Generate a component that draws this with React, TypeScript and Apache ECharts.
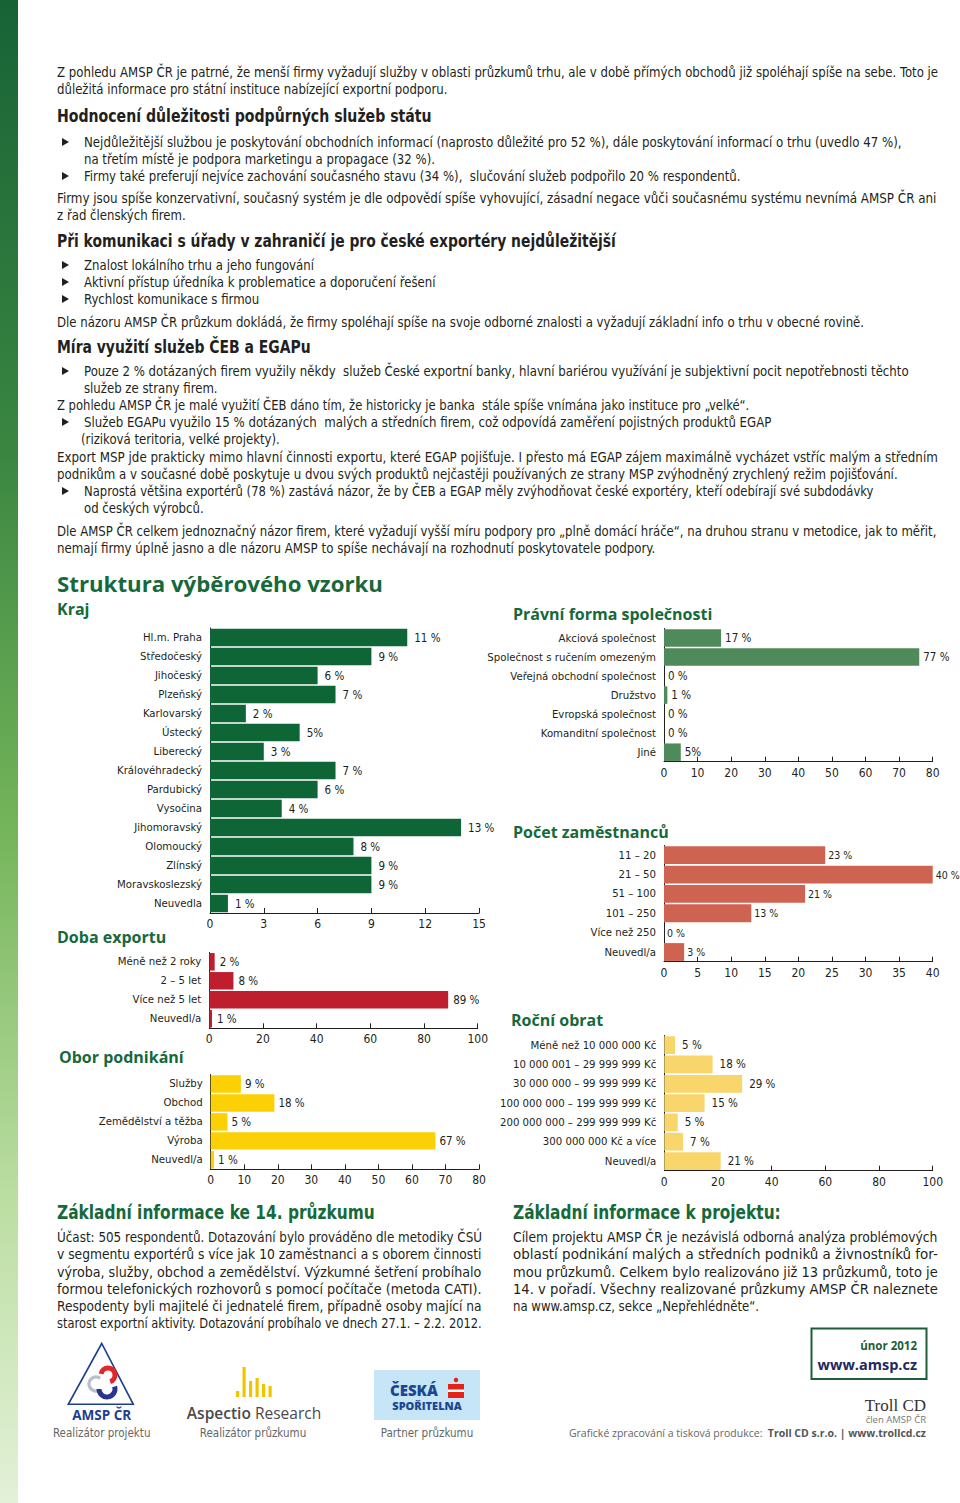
import React, { useEffect, useRef } from 'react';
import * as echarts from 'echarts';

const FN = "'DejaVu Sans Condensed', 'Liberation Sans Narrow', sans-serif";
const FW = "'Open Sans', Lato, sans-serif";
const TXT = '#231f20';
const GREEN = '#15693a';

// ---------- chart data ----------
const krajCategories = ['Hl.m. Praha', 'Středočeský', 'Jihočeský', 'Plzeňský', 'Karlovarský', 'Ústecký', 'Liberecký', 'Královéhradecký', 'Pardubický', 'Vysočina', 'Jihomoravský', 'Olomoucký', 'Zlínský', 'Moravskoslezský', 'Neuvedla'];
const krajValues = [11, 9, 6, 7, 2, 5, 3, 7, 6, 4, 14, 8, 9, 9, 1];
const krajLabels = ['11 %', '9 %', '6 %', '7 %', '2 %', '5%', '3 %', '7 %', '6 %', '4 %', '13 %', '8 %', '9 %', '9 %', '1 %'];

const dobaCategories = ['Méně než 2 roky', '2 – 5 let', 'Více než 5 let', 'Neuvedl/a'];
const dobaValues = [2, 9, 89, 1];
const dobaLabels = ['2 %', '8 %', '89 %', '1 %'];

const oborCategories = ['Služby', 'Obchod', 'Zemědělství a těžba', 'Výroba', 'Neuvedl/a'];
const oborValues = [9, 19, 5, 67, 1];
const oborLabels = ['9 %', '18 %', '5 %', '67 %', '1 %'];

const pravniCategories = ['Akciová společnost', 'Společnost s ručením omezeným', 'Veřejná obchodní společnost', 'Družstvo', 'Evropská společnost', 'Komanditní společnost', 'Jiné'];
const pravniValues = [17, 76, 0, 1, 0, 0, 5];
const pravniLabels = ['17 %', '77 %', '0 %', '1 %', '0 %', '0 %', '5%'];

const pocetCategories = ['11 – 20', '21 – 50', '51 – 100', '101 – 250', 'Více než 250', 'Neuvedl/a'];
const pocetValues = [24, 40, 21, 13, 0, 3];
const pocetLabels = ['23 %', '40 %', '21 %', '13 %', '0 %', '3 %'];

const obratCategories = ['Méně než 10 000 000 Kč', '10 000 001 – 29 999 999 Kč', '30 000 000 – 99 999 999 Kč', '100 000 000 – 199 999 999 Kč', '200 000 000 – 299 999 999 Kč', '300 000 000 Kč a více', 'Neuvedl/a'];
const obratValues = [4, 18, 29, 15, 5, 7, 21];
const obratLabels = ['5 %', '18 %', '29 %', '15 %', '5 %', '7 %', '21 %'];

// ---------- page text: [x, y, text, bullet, right edge to fit (0 = natural)] ----------
const bodyLines: [number, number, string, boolean, number][] = [
  [57, 72, 'Z pohledu AMSP ČR je patrné, že menší firmy vyžadují služby v oblasti průzkumů trhu, ale v době přímých obchodů již spoléhají spíše na sebe. Toto je', false, 938],
  [57, 89, 'důležitá informace pro státní instituce nabízející exportní podporu.', false, 0],
  [84, 142, 'Nejdůležitější službou je poskytování obchodních informací (naprosto důležité pro 52 %), dále poskytování informací o trhu (uvedlo 47 %),', true, 903],
  [84, 159, 'na třetím místě je podpora marketingu a propagace (32 %).', false, 0],
  [84, 176, 'Firmy také preferují nejvíce zachování současného stavu (34 %),  slučování služeb podpořilo 20 % respondentů.', true, 0],
  [57, 198, 'Firmy jsou spíše konzervativní, současný systém je dle odpovědí spíše vyhovující, zásadní negace vůči současnému systému nevnímá AMSP ČR ani', false, 938],
  [57, 215, 'z řad členských firem.', false, 0],
  [84, 265, 'Znalost lokálního trhu a jeho fungování', true, 0],
  [84, 282, 'Aktivní přístup úředníka k problematice a doporučení řešení', true, 0],
  [84, 299, 'Rychlost komunikace s firmou', true, 0],
  [57, 322, 'Dle názoru AMSP ČR průzkum dokládá, že firmy spoléhají spíše na svoje odborné znalosti a vyžadují základní info o trhu v obecné rovině.', false, 865],
  [84, 371, 'Pouze 2 % dotázaných firem využily někdy  služeb České exportní banky, hlavní bariérou využívání je subjektivní pocit nepotřebnosti těchto', true, 910],
  [84, 388, 'služeb ze strany firem.', false, 0],
  [57, 405, 'Z pohledu AMSP ČR je malé využití ČEB dáno tím, že historicky je banka  stále spíše vnímána jako instituce pro „velké“.', false, 750],
  [84, 422, 'Služeb EGAPu využilo 15 % dotázaných  malých a středních firem, což odpovídá zaměření pojistných produktů EGAP', true, 772],
  [81, 439, '(riziková teritoria, velké projekty).', false, 0],
  [57, 457, 'Export MSP jde prakticky mimo hlavní činnosti exportu, které EGAP pojišťuje. I přesto má EGAP zájem maximálně vycházet vstříc malým a středním', false, 938],
  [57, 474, 'podnikům a v současné době poskytuje u dvou svých produktů nejčastěji používaných ze strany MSP zvýhodněný zrychlený režim pojišťování.', false, 899],
  [84, 491, 'Naprostá většina exportérů (78 %) zastává názor, že by ČEB a EGAP měly zvýhodňovat české exportéry, kteří odebírají své subdodávky', true, 874],
  [84, 508, 'od českých výrobců.', false, 0],
  [57, 531, 'Dle AMSP ČR celkem jednoznačný názor firem, které vyžadují vyšší míru podpory pro „plně domácí hráče“, na druhou stranu v metodice, jak to měřit,', false, 938],
  [57, 548, 'nemají firmy úplně jasno a dle názoru AMSP to spíše nechávají na rozhodnutí poskytovatele podpory.', false, 656],
  [57, 1237, 'Účast: 505 respondentů. Dotazování bylo prováděno dle metodiky ČSÚ', false, 482],
  [57, 1254, 'v segmentu exportérů s více jak 10 zaměstnanci a s oborem činnosti', false, 482],
  [57, 1272, 'výroba, služby, obchod a zemědělství. Výzkumné šetření probíhalo', false, 482],
  [57, 1289, 'formou telefonických rozhovorů s pomocí počítače (metoda CATI).', false, 482],
  [57, 1306, 'Respodenty byli majitelé či jednatelé firem, případně osoby mající na', false, 482],
  [57, 1323, 'starost exportní aktivity. Dotazování probíhalo ve dnech 27.1. – 2.2. 2012.', false, 482],
  [513, 1237, 'Cílem projektu AMSP ČR je nezávislá odborná analýza problémových', false, 938],
  [513, 1254, 'oblastí podnikání malých a středních podniků a živnostníků for-', false, 938],
  [513, 1272, 'mou průzkumů. Celkem bylo realizováno již 13 průzkumů, toto je', false, 938],
  [513, 1289, '14. v pořadí. Všechny realizované průzkumy AMSP ČR naleznete', false, 938],
  [513, 1306, 'na www.amsp.cz, sekce „Nepřehlédněte“.', false, 0],
];

const darkHeadings: [number, number, string, number][] = [
  [57, 116, 'Hodnocení důležitosti podpůrných služeb státu', 432],
  [57, 241, 'Při komunikaci s úřady v zahraničí je pro české exportéry nejdůležitější', 616],
  [57, 347, 'Míra využití služeb ČEB a EGAPu', 311],
];

const greenHeadings: [number, number, string][] = [
  [57, 609, 'Kraj'],
  [57, 937, 'Doba exportu'],
  [59, 1057, 'Obor podnikání'],
  [513, 614, 'Právní forma společnosti'],
  [513, 832, 'Počet zaměstnanců'],
  [511, 1020, 'Roční obrat'],
];

const narrowGreenHeadings: [number, number, string, number][] = [
  [57, 1212, 'Základní informace ke 14. průzkumu', 375],
  [513, 1212, 'Základní informace k projektu:', 781],
];

let measureCtx: CanvasRenderingContext2D | null = null;
function measure(t: string, size: number, weight: string | number = 'normal', family = FN) {
  if (!measureCtx) measureCtx = document.createElement('canvas').getContext('2d');
  if (!measureCtx) return t.length * size * 0.5;
  measureCtx.font = `${weight} ${size}px ${family}`;
  return measureCtx.measureText(t).width;
}

const text = (x: number, y: number, t: string, s: any = {}, scaleX = 1) => ({
  type: 'text',
  x,
  y,
  scaleX,
  silent: true,
  style: {
    text: t,
    fill: TXT,
    fontFamily: FN,
    fontSize: 14.5,
    verticalAlign: 'middle',
    align: 'left',
    ...s,
  },
});

function buildGraphics() {
  const g: any[] = [];
  g.push({
    type: 'rect',
    silent: true,
    shape: { x: 0, y: 0, width: 18, height: 1503 },
    style: {
      fill: new echarts.graphic.LinearGradient(0, 0, 0, 1, [
        { offset: 0, color: '#186336' },
        { offset: 0.3, color: '#3a8641' },
        { offset: 0.55, color: '#74b45a' },
        { offset: 0.8, color: '#bcdea3' },
        { offset: 1, color: '#e3f1d8' },
      ]),
    },
  });
  bodyLines.forEach(([x, y, t, bullet, fit]) => {
    const sc = fit ? (fit - x) / measure(t, 14.5) : 0.9;
    g.push(text(x, y, t, {}, sc));
    if (bullet) {
      g.push({
        type: 'polygon',
        silent: true,
        shape: { points: [[62, y - 4], [69, y], [62, y + 4]] },
        style: { fill: TXT },
      });
    }
  });
  darkHeadings.forEach(([x, y, t, fit]) => {
    const sc = (fit - x) / measure(t, 18, 'bold');
    g.push(text(x, y, t, { fontSize: 18, fontWeight: 'bold' }, sc));
  });
  g.push(text(57, 583, 'Struktura výběrového vzorku', { fontFamily: FW, fontWeight: 'bold', fontSize: 22, fill: GREEN }, 326 / measure('Struktura výběrového vzorku', 22, 'bold', FW)));
  greenHeadings.forEach(([x, y, t]) => g.push(text(x, y, t, { fontFamily: FW, fontWeight: 'bold', fontSize: 16, fill: GREEN })));
  narrowGreenHeadings.forEach(([x, y, t, fit]) => {
    const sc = (fit - x) / measure(t, 20, 'bold');
    g.push(text(x, y, t, { fontSize: 20, fontWeight: 'bold', fill: GREEN }, sc));
  });

  // AMSP logo
  g.push({ type: 'polygon', silent: true, shape: { points: [[101.7, 1343.5], [68.3, 1404.3], [133.3, 1404.3]] }, style: { fill: 'none', stroke: '#1d3f8f', lineWidth: 1.6 } });
  g.push({ type: 'arc', silent: true, shape: { cx: 96, cy: 1384, r: 7, startAngle: Math.PI * 0.35, endAngle: Math.PI * 1.7, clockwise: true }, style: { fill: 'none', stroke: '#b9c2cc', lineWidth: 3.5 } });
  g.push({ type: 'arc', silent: true, shape: { cx: 108, cy: 1375, r: 7, startAngle: Math.PI * 1.05, endAngle: Math.PI * 2.4, clockwise: true }, style: { fill: 'none', stroke: '#e3262b', lineWidth: 5 } });
  g.push({ type: 'arc', silent: true, shape: { cx: 107, cy: 1389, r: 8, startAngle: -Math.PI * 0.1, endAngle: Math.PI * 1.0, clockwise: true }, style: { fill: 'none', stroke: '#27358f', lineWidth: 5 } });
  g.push(text(101.7, 1415, 'AMSP ČR', { fontFamily: "'Open Sans', sans-serif", fontWeight: 'bold', fontSize: 13.5, fill: '#1d3f8f', align: 'center' }));
  g.push(text(101.7, 1433, 'Realizátor projektu', { fontSize: 12.5, fill: '#666', align: 'center' }, 0.92));

  // Aspectio logo
  const aspBars = [[236, 1391], [242.5, 1367], [249, 1381], [255.5, 1378], [262, 1384], [268.5, 1386]];
  aspBars.forEach(([x, top]) => g.push({ type: 'rect', silent: true, shape: { x, y: top, width: 3.2, height: 1397 - top }, style: { fill: '#f2c400' } }));
  g.push(text(254, 1413, '{a|Aspectio} {b|Research}', {
    align: 'center',
    rich: {
      a: { fontFamily: "'Open Sans', sans-serif", fontWeight: 600, fontSize: 16, fill: '#4a4a4a' },
      b: { fontFamily: "'Open Sans', sans-serif", fontSize: 16, fill: '#4a4a4a' },
    },
  }, 0.97));
  g.push(text(253, 1433, 'Realizátor průzkumu', { fontSize: 12.5, fill: '#666', align: 'center' }, 0.92));

  // Česká spořitelna logo
  g.push({ type: 'rect', silent: true, shape: { x: 374, y: 1370, width: 106, height: 50 }, style: { fill: '#c6e5f6' } });
  g.push(text(390, 1390, 'ČESKÁ', { fontFamily: "'Open Sans', sans-serif", fontWeight: 800, fontSize: 15, fill: '#1c4694' }));
  g.push({ type: 'rect', silent: true, shape: { x: 448, y: 1384, width: 16, height: 14 }, style: { fill: '#e2231a' } });
  g.push({ type: 'rect', silent: true, shape: { x: 448, y: 1389.5, width: 16, height: 2.5 }, style: { fill: '#fff' } });
  g.push({ type: 'circle', silent: true, shape: { cx: 456, cy: 1380, r: 2.2 }, style: { fill: '#e2231a' } });
  g.push(text(427, 1405, 'SPOŘITELNA', { fontFamily: "'Open Sans', sans-serif", fontWeight: 800, fontSize: 11, fill: '#1c4694', align: 'center' }));
  g.push(text(427, 1433, 'Partner průzkumu', { fontSize: 12.5, fill: '#666', align: 'center' }, 0.92));

  // date box
  g.push({ type: 'rect', silent: true, shape: { x: 811.5, y: 1328.5, width: 115, height: 50.5 }, style: { fill: 'none', stroke: '#1d5e36', lineWidth: 2 } });
  g.push(text(917, 1345, 'únor 2012', { fontFamily: "'Open Sans', sans-serif", fontWeight: 'bold', fontSize: 11.5, fill: '#1d5e36', align: 'right' }));
  g.push(text(917, 1364, 'www.amsp.cz', { fontFamily: "'Open Sans', sans-serif", fontWeight: 'bold', fontSize: 14.5, fill: '#22285e', align: 'right' }));

  // Troll CD
  g.push(text(926, 1405, 'Troll CD', { fontFamily: "'Liberation Serif', 'DejaVu Serif', serif", fontSize: 17, fill: '#333', align: 'right' }));
  g.push(text(926, 1419, 'člen AMSP ČR', { fontFamily: "'Open Sans', sans-serif", fontSize: 9.5, fill: '#777', align: 'right' }));
  g.push(text(926, 1433, '{a|Grafické zpracování a tisková produkce:  }{b|Troll CD s.r.o. | www.trollcd.cz}', {
    align: 'right',
    rich: {
      a: { fontFamily: "'Open Sans', sans-serif", fontSize: 10.5, fill: '#666' },
      b: { fontFamily: "'Open Sans', sans-serif", fontSize: 10.5, fontWeight: 'bold', fill: '#555' },
    },
  }));
  return g;
}

type Block = {
  cats: string[];
  vals: number[];
  labels: string[];
  color: string;
  grid: { left: number; top: number; width: number; height: number };
  max: number;
  interval: number;
  dist: number;
  labelSize: number;
};

const blocks: Block[] = [
  { cats: krajCategories, vals: krajValues, labels: krajLabels, color: '#0e6636', grid: { left: 210, top: 628, width: 269, height: 285 }, max: 15, interval: 3, dist: 7, labelSize: 11.5 },
  { cats: dobaCategories, vals: dobaValues, labels: dobaLabels, color: '#be1e2d', grid: { left: 209.3, top: 952.3, width: 268.4, height: 76 }, max: 100, interval: 20, dist: 5, labelSize: 11.5 },
  { cats: oborCategories, vals: oborValues, labels: oborLabels, color: '#fbd105', grid: { left: 210.7, top: 1074.5, width: 268.3, height: 94.8 }, max: 80, interval: 10, dist: 4, labelSize: 11.5 },
  { cats: pravniCategories, vals: pravniValues, labels: pravniLabels, color: '#4f8a5b', grid: { left: 664, top: 628.5, width: 268.7, height: 133.2 }, max: 80, interval: 10, dist: 4, labelSize: 11.5 },
  { cats: pocetCategories, vals: pocetValues, labels: pocetLabels, color: '#cf6352', grid: { left: 664, top: 845.5, width: 268.7, height: 116.2 }, max: 40, interval: 5, dist: 3, labelSize: 10.5 },
  { cats: obratCategories, vals: obratValues, labels: obratLabels, color: '#f8d66b', grid: { left: 664.3, top: 1035.5, width: 268.4, height: 135.2 }, max: 100, interval: 20, dist: 7, labelSize: 11.5 },
];

function buildOption() {
  const grid: any[] = [];
  const xAxis: any[] = [];
  const yAxis: any[] = [];
  const series: any[] = [];
  blocks.forEach((b, i) => {
    grid.push({ ...b.grid, containLabel: false, outerBoundsMode: 'none' });
    xAxis.push({
      type: 'value',
      gridIndex: i,
      min: 0,
      max: b.max,
      interval: b.interval,
      axisLine: { show: true, lineStyle: { color: TXT, width: 1 } },
      axisTick: { show: true, inside: true, length: 5, lineStyle: { color: TXT } },
      splitLine: { show: false },
      axisLabel: { fontFamily: FN, fontSize: 12, color: TXT, margin: 5 },
    });
    yAxis.push({
      type: 'category',
      gridIndex: i,
      inverse: true,
      data: b.cats,
      axisLine: { show: true, lineStyle: { color: TXT, width: 1 } },
      axisTick: { show: false },
      axisLabel: { fontFamily: FN, fontSize: 11.3, color: TXT, margin: 8 },
    });
    series.push({
      type: 'bar',
      xAxisIndex: i,
      yAxisIndex: i,
      data: b.vals,
      barCategoryGap: '8%',
      silent: true,
      itemStyle: { color: b.color },
      label: {
        show: true,
        position: 'right',
        distance: b.dist,
        fontFamily: FN,
        fontSize: b.labelSize,
        color: TXT,
        formatter: (p: any) => b.labels[p.dataIndex],
      },
    });
  });
  return {
    animation: false,
    backgroundColor: '#ffffff',
    grid,
    xAxis,
    yAxis,
    series,
    graphic: buildGraphics(),
  };
}

export default function App() {
  const ref = useRef<HTMLDivElement>(null);
  useEffect(() => {
    if (!ref.current) return;
    const chart = echarts.init(ref.current, null, { renderer: 'svg' });
    chart.setOption(buildOption() as any);
    return () => chart.dispose();
  }, []);
  return (
    <div
      ref={ref}
      style={{ position: 'absolute', left: 0, top: 0, width: 960, height: 1503, background: '#fff' }}
    />
  );
}
